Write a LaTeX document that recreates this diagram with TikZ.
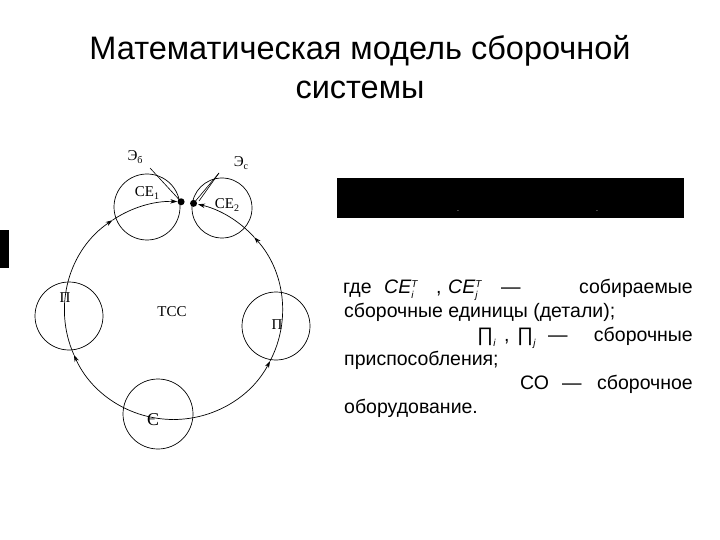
\documentclass[tikz,border=0pt]{standalone}
\usepackage{fontspec}
\setmainfont{Liberation Sans}
\newfontfamily\serifcyr{Liberation Serif}
\usetikzlibrary{arrows.meta}
\newcommand\mysupsub[2]{\raisebox{-5pt}{\fontsize{10}{14}\selectfont\itshape\shortstack[l]{#1\\#2}}}
\newcommand\mysub[1]{\raisebox{-0.55ex}{\fontsize{10}{10}\selectfont\itshape #1}}
\begin{document}
\begin{tikzpicture}[x=1pt,y=1pt,yscale=-1,
  ring/.style={draw, circle, inner sep=0pt, line width=0.7pt},
  dotnode/.style={circle, fill, inner sep=0pt, minimum size=7pt},
  lab/.style={font=\serifcyr\fontsize{15}{15}\selectfont, inner sep=0pt},
  flow/.style={line width=0.7pt, -{Stealth[length=7pt,width=4.5pt]}},
  thinline/.style={line width=0.6pt},
  txt/.style={font=\fontsize{19.5}{22}\selectfont, inner sep=0pt},
  ttl/.style={font=\fontsize{32.5}{36}\selectfont, inner sep=0pt, anchor=base}]
\useasboundingbox (0,0) rectangle (720,540);
\fill[white] (0,0) rectangle (720,540);

% title
\node[ttl] (t1) at (360,60) {Математическая модель сборочной};
\node[ttl] (t2) at (360,99) {системы};

% black bars
\fill[black] (337,178) rectangle (684,218);
\fill[black] (0,230) rectangle (9,268);
\node[text=white, font=\fontsize{7}{7}\selectfont, inner sep=0pt] (m1) at (458,211) {.};
\node[text=white, font=\fontsize{7}{7}\selectfont, inner sep=0pt] (m2) at (597,211) {.};

% diagram
\coordinate (O) at (173.5,310.5);
\node[ring, minimum size=66pt] (ce1) at (147,207) {};
\node[ring, minimum size=60pt] (ce2) at (222,208) {};
\node[ring, minimum size=68pt] (pl) at (69,316) {};
\node[ring, minimum size=68pt] (pr) at (276,326) {};
\node[ring, minimum size=70pt] (cc) at (158,414) {};

\path (O) ++(274:109) node[dotnode] (d1) {};
\path (O) ++(-79.4:109) node[dotnode] (d2) {};

% left half of the ring
\draw[flow] (O) ++(90:109) arc[start angle=90, end angle=156, radius=109pt];
\draw[flow] (O) ++(156:109) arc[start angle=156, end angle=236, radius=109pt];
\draw[flow] (O) ++(236:109) arc[start angle=236, end angle=272, radius=109pt];
% right half of the ring
\draw[flow] (O) ++(90:109) arc[start angle=90, end angle=27.6, radius=109pt];
\draw[flow] (O) ++(27.6:109) arc[start angle=27.6, end angle=-42.3, radius=109pt];
\draw[flow] (O) ++(-42.3:109) arc[start angle=-42.3, end angle=-77, radius=109pt];

% element lines
\coordinate (eb) at (150,168);
\coordinate (ec) at (219,173);
\coordinate (ec2) at (199,201);
\draw[thinline] (eb) -- (d1.center);
\draw[thinline] (ec) -- (d2.center);
\draw[thinline] (ec) -- (ec2);

% labels
\node[lab] (leb) at (135,157) {Э\mysub{\upshape б}};
\node[lab] (lec) at (241,163) {Э\mysub{\upshape с}};
\node[lab] (lce1) at (147,193) {CE\mysub{\upshape 1}};
\node[lab] (lce2) at (227,205) {CE\mysub{\upshape 2}};
\node[lab] (lpl) at (65,298) {П};
\node[lab] (lpr) at (277,325) {П};
\node[lab] (ltcc) at (172,312) {ТСС};
\node[lab, font=\serifcyr\fontsize{18}{18}\selectfont] (lc) at (153,420) {Є};

% text block
\node[txt, anchor=base west] (a1) at (343,293) {где};
\node[txt, anchor=base west] (a2) at (384,293) {\textit{CE}\mysupsub{T}{i}};
\node[txt, anchor=base west] (a3) at (436,293) {,};
\node[txt, anchor=base west] (a4) at (448,293) {\textit{CE}\mysupsub{T}{j}};
\node[txt, anchor=base west] (a5) at (501,293) {—};
\node[txt, anchor=base east] (a6) at (693,293) {собираемые};

\node[txt, anchor=base west] (b1) at (344,317) {сборочные единицы (детали);};

\node[txt, anchor=base west] (c1) at (477,341) {∏\mysub{i}};
\node[txt, anchor=base west] (c2) at (504,341) {,};
\node[txt, anchor=base west] (c3) at (517,341) {∏\mysub{j}};
\node[txt, anchor=base west] (c4) at (548,341) {—};
\node[txt, anchor=base east] (c5) at (693,341) {сборочные};

\node[txt, anchor=base west] (e1) at (344,365) {приспособления;};

\node[txt, anchor=base west] (f1) at (520,389) {СО};
\node[txt, anchor=base west] (f2) at (562,389) {—};
\node[txt, anchor=base east] (f3) at (693,389) {сборочное};

\node[txt, anchor=base west] (g1) at (344,413) {оборудование.};
\end{tikzpicture}
\end{document}
